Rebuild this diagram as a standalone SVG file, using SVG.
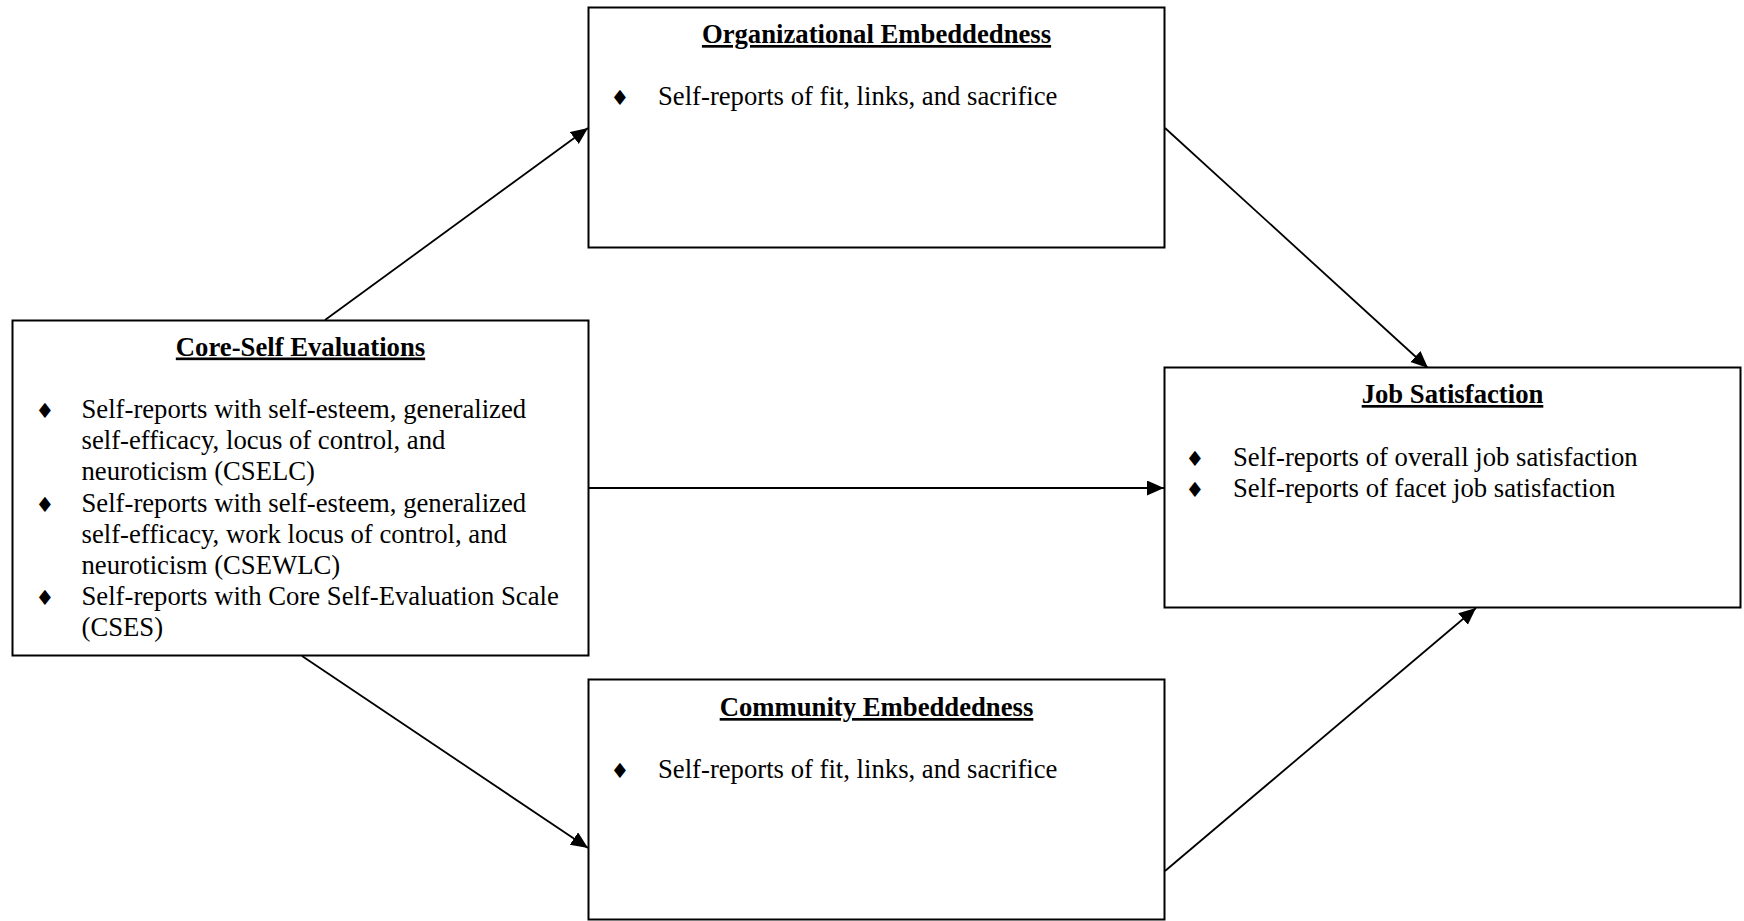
<svg xmlns="http://www.w3.org/2000/svg" width="1744" height="921" viewBox="0 0 1744 921">
<style>
.box{fill:#fff;stroke:#000;stroke-width:2}
.t{font-family:"Liberation Serif","Times New Roman",serif;font-size:26.7px;fill:#000}
.h{font-weight:bold;text-anchor:middle;text-decoration:underline}
.b{font-family:"DejaVu Sans",sans-serif;font-size:21px;text-anchor:middle;fill:#000}
.c{stroke:#000;stroke-width:1.8;fill:none;marker-end:url(#ah)}
</style>
<defs>
<marker id="ah" markerUnits="userSpaceOnUse" markerWidth="18" markerHeight="16" refX="17" refY="7.5" orient="auto">
<path d="M0,0 L17,7.5 L0,15 z" fill="#000"/>
</marker>
</defs>
<rect width="1744" height="921" fill="#fff"/>
<g id="connectors">
<line class="c" x1="325" y1="320" x2="588" y2="128"/>
<line class="c" x1="1165" y1="128" x2="1428" y2="368"/>
<line class="c" x1="589" y1="488" x2="1164" y2="488"/>
<line class="c" x1="302" y1="656" x2="588" y2="848"/>
<line class="c" x1="1165" y1="871" x2="1476" y2="608"/>
</g>
<g id="org">
<rect class="box" x="588.5" y="7.5" width="576" height="240"/>
<text class="t h" x="876.5" y="43">Organizational Embeddedness</text>
<text class="b" x="620" y="105">♦</text>
<text class="t" x="658" y="105">Self-reports of fit, links, and sacrifice</text>
</g>
<g id="core">
<rect class="box" x="12.5" y="320.5" width="576" height="335"/>
<text class="t h" x="300.5" y="355.5">Core-Self Evaluations</text>
<text class="b" x="45" y="418">♦</text>
<text class="b" x="45" y="511.5">♦</text>
<text class="b" x="45" y="605">♦</text>
<text class="t" x="81.5" y="418">Self-reports with self-esteem, generalized</text>
<text class="t" x="81.5" y="449.2">self-efficacy, locus of control, and</text>
<text class="t" x="81.5" y="480.4">neuroticism (CSELC)</text>
<text class="t" x="81.5" y="511.6">Self-reports with self-esteem, generalized</text>
<text class="t" x="81.5" y="542.8">self-efficacy, work locus of control, and</text>
<text class="t" x="81.5" y="574">neuroticism (CSEWLC)</text>
<text class="t" x="81.5" y="605.2">Self-reports with Core Self-Evaluation Scale</text>
<text class="t" x="81.5" y="636.4">(CSES)</text>
</g>
<g id="job">
<rect class="box" x="1164.5" y="367.5" width="576" height="240"/>
<text class="t h" x="1452.5" y="403">Job Satisfaction</text>
<text class="b" x="1195" y="466">♦</text>
<text class="b" x="1195" y="497">♦</text>
<text class="t" x="1233" y="466">Self-reports of overall job satisfaction</text>
<text class="t" x="1233" y="497">Self-reports of facet job satisfaction</text>
</g>
<g id="community">
<rect class="box" x="588.5" y="679.5" width="576" height="240"/>
<text class="t h" x="876.5" y="716">Community Embeddedness</text>
<text class="b" x="620" y="778">♦</text>
<text class="t" x="658" y="778">Self-reports of fit, links, and sacrifice</text>
</g>
</svg>
